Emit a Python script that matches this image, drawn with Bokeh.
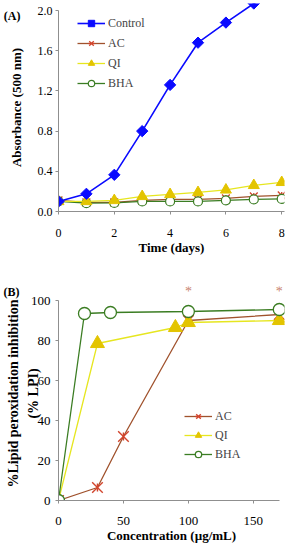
import math
from bokeh.plotting import figure
from bokeh.layouts import column
from bokeh.models import (Range1d, Legend, LegendItem, FixedTicker, NumeralTickFormatter,
                          LinearAxis)
from bokeh.core.properties import value
from bokeh.embed import file_html
from bokeh.resources import INLINE

# ---------------- data ----------------
days = [0, 1, 2, 3, 4, 5, 6, 7, 8]
control_abs = [0.10, 0.176, 0.365, 0.80, 1.26, 1.68, 1.88, 2.07, 2.22]
ac_abs = [0.11, 0.09, 0.09, 0.11, 0.12, 0.12, 0.13, 0.15, 0.16]
qi_abs = [0.10, 0.10, 0.11, 0.15, 0.17, 0.19, 0.215, 0.26, 0.29]
bha_abs = [0.10, 0.083, 0.085, 0.10, 0.10, 0.10, 0.11, 0.12, 0.125]

ac_conc = [0, 30, 50, 100, 170]
ac_lpi = [0, 6.5, 32, 90, 93]
qi_conc = [0, 30, 90, 100, 170]
qi_lpi = [0, 78.5, 86.5, 89, 90]
bha_conc = [0, 20, 40, 100, 170]
bha_lpi = [0, 93.5, 94, 94.5, 95.5]
sig_conc = [100, 170]
sig_lpi = [104.5, 104.5]
sig_text = ["*", "*"]

a_xticks = [0, 2, 4, 6, 8]
a_yticks = [0.0, 0.4, 0.8, 1.2, 1.6, 2.0]
b_xticks = [0, 50, 100, 150]
b_yticks = [0, 20, 40, 60, 80, 100]

# ---------------- style ----------------
FONT = "Liberation Serif"
AXIS_COL = "#8f8f8f"
CONTROL_COL = "#0a0aff"
AC_LINE = "#a0522d"
AC_MARK = "#d2452d"
QI_LINE = "#e6e620"
QI_MARK = "#e3c400"
BHA_LINE = "#3b7d23"
SIG_COL = "#c8826e"


def style_axes(p, tick_size):
    p.xgrid.visible = False
    p.ygrid.visible = False
    p.outline_line_color = None
    for ax in (p.xaxis[0], p.yaxis[0]):
        ax.axis_line_color = AXIS_COL
        ax.major_tick_line_color = AXIS_COL
        ax.minor_tick_line_color = None
        ax.major_tick_in = 0
        ax.major_tick_out = 3
        ax.major_label_text_font = FONT
        ax.major_label_text_font_size = tick_size
        ax.major_label_text_color = "black"
        ax.axis_label_text_font = FONT
        ax.axis_label_text_font_style = "bold"
        ax.axis_label_text_font_size = "13px"
        ax.axis_label_text_color = "black"


def text_axis(p, side, range_name, ticks=(), overrides=None, bounds="auto", label=None,
              label_standoff=0, label_size="13px", tick_standoff=0):
    """An extra, invisible axis that only carries text (title or panel tag)."""
    if side in ("left", "right"):
        ax = LinearAxis(y_range_name=range_name)
    else:
        ax = LinearAxis(x_range_name=range_name)
    ax.ticker = FixedTicker(ticks=list(ticks))
    ax.bounds = bounds
    ax.axis_line_color = None
    ax.major_tick_line_color = None
    ax.minor_tick_line_color = None
    ax.major_tick_in = 0
    ax.major_tick_out = 0
    ax.minor_tick_in = 0
    ax.minor_tick_out = 0
    ax.major_label_standoff = tick_standoff
    ax.major_label_text_font = FONT
    ax.major_label_text_font_style = "bold"
    ax.major_label_text_font_size = "12px"
    ax.major_label_text_color = "black"
    if overrides:
        ax.major_label_overrides = overrides
    if label:
        ax.axis_label = label
        ax.axis_label_standoff = label_standoff
        ax.axis_label_text_font = FONT
        ax.axis_label_text_font_style = "bold"
        ax.axis_label_text_font_size = label_size
        ax.axis_label_text_color = "black"
    p.add_layout(ax, side)
    return ax


# ---------------- panel A ----------------
pa = figure(width=292, height=263, output_backend="svg", toolbar_location=None,
            x_range=Range1d(0, 8.1), y_range=Range1d(0, 2.07),
            min_border_left=58, min_border_right=8, min_border_top=3, min_border_bottom=52)
# pixel helper ranges (0 = frame bottom / frame left)
pa.extra_y_ranges = {"px": Range1d(0, 208)}
pa.extra_x_ranges = {"px": Range1d(0, 226)}
style_axes(pa, "12px")
pa.xaxis.ticker = FixedTicker(ticks=a_xticks)
pa.yaxis.ticker = FixedTicker(ticks=a_yticks)
pa.yaxis.formatter = NumeralTickFormatter(format="0.0")
pa.yaxis.bounds = (0, 2.0)
pa.xaxis.major_label_standoff = 14
pa.yaxis.major_label_standoff = 3
pa.yaxis.axis_label = "Absorbance (500 nm)"
pa.yaxis.axis_label_standoff = 11

text_axis(pa, "left", "px", ticks=[196], overrides={196: "(A)"}, tick_standoff=-15)
text_axis(pa, "below", "px", bounds=(0, 212), label="Time (days)", label_standoff=0)

a_ac_l = pa.line(days, ac_abs, line_color=AC_LINE, line_width=1.3)
a_ac_m = pa.scatter(days, ac_abs, marker="x", size=11, line_color=AC_MARK, line_width=1.3)
a_ac_v = pa.scatter(days, ac_abs, marker="dash", angle=math.pi / 2, size=7, line_color=AC_MARK, line_width=1.3)
a_bha_l = pa.line(days, bha_abs, line_color=BHA_LINE, line_width=1.3)
a_bha_m = pa.scatter(days, bha_abs, marker="circle", size=9, line_color=BHA_LINE,
                     fill_color="white", line_width=1.2)
a_qi_l = pa.line(days, qi_abs, line_color=QI_LINE, line_width=1.3)
a_qi_m = pa.scatter(days, qi_abs, marker="triangle", size=11, line_color=QI_MARK, fill_color=QI_MARK)
a_ct_l = pa.line(days, control_abs, line_color=CONTROL_COL, line_width=1.6)
a_ct_m = pa.scatter(days, control_abs, marker="square", angle=math.pi / 4, size=8,
                    line_color=CONTROL_COL, fill_color=CONTROL_COL)

leg_a = Legend(items=[
    LegendItem(label="Control", renderers=[a_ct_l, a_ct_m]),
    LegendItem(label="AC", renderers=[a_ac_l, a_ac_m, a_ac_v]),
    LegendItem(label="QI", renderers=[a_qi_l, a_qi_m]),
    LegendItem(label="BHA", renderers=[a_bha_l, a_bha_m]),
], location=(19, 120), glyph_width=28, glyph_height=16, label_height=16, spacing=4,
    padding=0, margin=0, label_standoff=3, border_line_alpha=0, background_fill_alpha=0,
    label_text_font=FONT, label_text_font_size="12px")
pa.add_layout(leg_a)

# ---------------- panel B ----------------
pb = figure(width=292, height=285, output_backend="svg", toolbar_location=None,
            x_range=Range1d(0, 174), y_range=Range1d(0, 107),
            min_border_left=58, min_border_right=0, min_border_top=23, min_border_bottom=48)
pb.extra_y_ranges = {"px": Range1d(0, 214)}
pb.extra_x_ranges = {"px": Range1d(0, 234)}
style_axes(pb, "13px")
pb.xaxis.ticker = FixedTicker(ticks=b_xticks)
pb.yaxis.ticker = FixedTicker(ticks=b_yticks)
pb.xaxis.bounds = (0, 170)
pb.yaxis.bounds = (0, 100)
pb.xaxis.major_label_standoff = 13
pb.yaxis.major_label_standoff = 5
pb.yaxis.axis_label = "(% LPI)"
pb.yaxis.axis_label_standoff = -13
pb.yaxis.axis_label_text_font_size = "14px"

text_axis(pb, "left", "px", bounds=(0, 188), label="%Lipid peroxidation inhibition",
          label_standoff=2, label_size="14px")
text_axis(pb, "left", "px", ticks=[209], overrides={209: "(B)"}, tick_standoff=-17)
text_axis(pb, "below", "px", bounds=(0, 206), label="Concentration (µg/mL)", label_standoff=0)

b_ac_l = pb.line(ac_conc, ac_lpi, line_color=AC_LINE, line_width=1.3)
b_ac_m = pb.scatter(ac_conc, ac_lpi, marker="x", size=15, line_color=AC_MARK, line_width=1.4)
b_ac_v = pb.scatter(ac_conc, ac_lpi, marker="dash", angle=math.pi / 2, size=8, line_color=AC_MARK, line_width=1.4)
b_qi_l = pb.line(qi_conc, qi_lpi, line_color=QI_LINE, line_width=1.3)
b_qi_m = pb.scatter(qi_conc, qi_lpi, marker="triangle", size=14, line_color=QI_MARK, fill_color=QI_MARK)
b_bha_l = pb.line(bha_conc, bha_lpi, line_color=BHA_LINE, line_width=1.3)
b_bha_m = pb.scatter(bha_conc, bha_lpi, marker="circle", size=12, line_color=BHA_LINE,
                     fill_color="white", line_width=1.3)
pb.text(sig_conc, sig_lpi, text=sig_text, text_color=SIG_COL, text_font=value(FONT),
        text_font_size="14px", text_align="center", text_baseline="middle")

leg_b = Legend(items=[
    LegendItem(label="AC", renderers=[b_ac_l, b_ac_m, b_ac_v]),
    LegendItem(label="QI", renderers=[b_qi_l, b_qi_m]),
    LegendItem(label="BHA", renderers=[b_bha_l, b_bha_m]),
], location=(126, 38), glyph_width=28, glyph_height=16, label_height=16, spacing=3,
    padding=0, margin=0, label_standoff=3, border_line_alpha=0, background_fill_alpha=0,
    label_text_font=FONT, label_text_font_size="12px")
pb.add_layout(leg_b)

layout = column(pa, pb, spacing=0)
open("out.html", "w").write(file_html(layout, INLINE))
